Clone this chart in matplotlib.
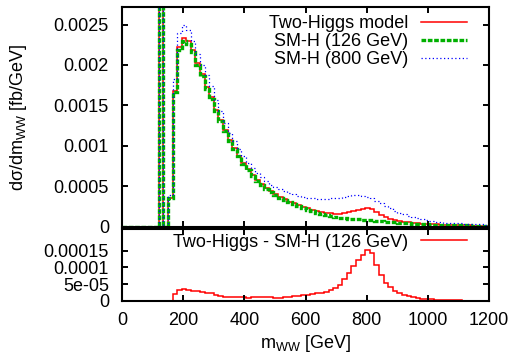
import numpy as np
import matplotlib
matplotlib.use('Agg')
import matplotlib.pyplot as plt

plt.rcParams['font.family'] = ['Liberation Sans', 'DejaVu Sans']
plt.rcParams['mathtext.fontset'] = 'custom'
plt.rcParams['mathtext.rm'] = 'Liberation Sans'
plt.rcParams['mathtext.it'] = 'Liberation Sans:italic'
plt.rcParams['font.size'] = 13

# 15 GeV bins from 0 to 1200 GeV
edges = np.arange(0, 1201, 15)

# SM-H (126 GeV), fb/GeV per bin
sm126 = [0, 0, 0, 0, 0, 0, 0, 0, 0.05, 0,
         0.00035, 0.00166, 0.00219, 0.00230, 0.00226, 0.00216, 0.00200, 0.00186, 0.00170, 0.00158,
         0.00143, 0.00131, 0.00118, 0.00106, 0.00096, 0.00087, 0.00078, 0.00070, 0.00063, 0.00057,
         0.00052, 0.00047, 0.00043, 0.00039, 0.00036, 0.00033, 0.00030, 0.00028, 0.00025, 0.00023,
         0.00021, 0.00019, 0.00017, 0.000155, 0.000144, 0.000133, 0.000123, 0.000113, 0.000105, 0.000100,
         0.000095, 0.000090, 0.000086, 0.000082, 0.000078, 0.000073, 0.000068, 0.000063, 0.000058, 0.000054,
         0.000050, 0.000046, 0.000042, 0.000039, 0.000036, 0.000033, 0.000030, 0.000027, 0.000025, 0.000023,
         0.000021, 0.000020, 0.000018, 0.000017, 0.000016, 0.000015, 0.000014, 0.000013, 0.000012, 0.000011]

# Two-Higgs - SM-H (126 GeV)
diff = [0, 0, 0, 0, 0, 0, 0, 0, 0, 0,
        0, 2.0e-5, 3.2e-5, 3.4e-5, 3.2e-5, 3.0e-5, 2.8e-5, 2.6e-5, 2.4e-5, 2.2e-5,
        1.6e-5, 1.3e-5, 1.2e-5, 1.2e-5, 1.1e-5, 1.0e-5, 1.0e-5, 0.9e-5, 1.0e-5, 1.0e-5,
        1.1e-5, 1.2e-5, 1.1e-5, 0.9e-5, 0.9e-5, 1.0e-5, 1.1e-5, 1.3e-5, 1.5e-5, 1.7e-5,
        1.8e-5, 2.0e-5, 2.2e-5, 2.4e-5, 2.7e-5, 3.2e-5, 3.8e-5, 4.7e-5, 6.4e-5, 8.2e-5,
        1.04e-4, 1.22e-4, 1.37e-4, 1.52e-4, 1.42e-4, 1.07e-4, 7.7e-5, 5.4e-5, 4.2e-5, 3.0e-5,
        2.2e-5, 1.7e-5, 1.3e-5, 1.0e-5, 0.8e-5, 0.6e-5, 0.5e-5, 0.4e-5, 0.3e-5, 0.2e-5,
        0.2e-5, 0.1e-5, 0.1e-5, 0.1e-5, 0, 0, 0, 0, 0, 0]

# SM-H (800 GeV)
sm800 = [0, 0, 0, 0, 0, 0, 0, 0, 0.05, 0,
         0.00039, 0.00183, 0.00240, 0.00249, 0.00243, 0.00229, 0.00214, 0.00200, 0.00187, 0.00174,
         0.00157, 0.00143, 0.00128, 0.00116, 0.00106, 0.00096, 0.00087, 0.00079, 0.00073, 0.00067,
         0.00061, 0.00056, 0.00052, 0.00049, 0.00046, 0.00044, 0.00042, 0.00040, 0.00038, 0.00037,
         0.00036, 0.00035, 0.00034, 0.00034, 0.00034, 0.00035, 0.00035, 0.00036, 0.00037, 0.00038,
         0.00039, 0.00039, 0.00038, 0.00037, 0.00035, 0.00032, 0.00029, 0.00026, 0.00023, 0.00020,
         0.000175, 0.000155, 0.000135, 0.000118, 0.000102, 0.000090, 0.000080, 0.000070, 0.000062, 0.000055,
         0.000050, 0.000046, 0.000042, 0.000040, 0.000037, 0.000035, 0.000032, 0.000030, 0.000028, 0.000026]

two_higgs = np.array(sm126) + np.array(diff)

red = '#ff0000'
green = '#00b000'
blue = '#0000ff'

fig = plt.figure(figsize=(5.11, 3.55), dpi=100)
ax1 = fig.add_axes([0.2389, 0.3614, 0.7182, 0.6197])
ax2 = fig.add_axes([0.2389, 0.1530, 0.7182, 0.2011])

ax1.stairs(two_higgs, edges, baseline=None, color=red, lw=1.1, label='Two-Higgs model')
ax1.stairs(sm126, edges, baseline=None, color=green, lw=2.4, ls=(0, (1.4, 0.5)),
           label='SM-H (126 GeV)')
ax1.stairs(sm800, edges, baseline=None, color=blue, lw=0.9, ls=(0, (1, 2)),
           label='SM-H (800 GeV)')
ax1.set_xlim(0, 1200)
ax1.set_ylim(0, 0.00272)
ax1.set_yticks([0, 0.0005, 0.001, 0.0015, 0.002, 0.0025])
ax1.set_yticklabels(['0', '0.0005', '0.001', '0.0015', '0.002', '0.0025'])
ax1.set_xticks(range(0, 1201, 200))
ax1.set_xticklabels([])

ax2.stairs(diff, edges, baseline=None, color=red, lw=1.1, label='Two-Higgs - SM-H (126 GeV)')
ax2.set_xlim(0, 1200)
ax2.set_ylim(0, 0.000214)
ax2.set_yticks([0, 5e-5, 1e-4, 1.5e-4])
ax2.set_yticklabels(['0', '5e-05', '0.0001', '0.00015'])
ax2.set_xticks(range(0, 1201, 200))

for ax in (ax1, ax2):
    for sp in ax.spines.values():
        sp.set_linewidth(1.5)
    ax.tick_params(direction='in', length=4, width=1.4, top=True, right=True,
                   labelsize=13, pad=9.5)
    ax.tick_params(axis='x', pad=8.5)

def right_align(leg):
    for col in leg._legend_handle_box.get_children():
        col.align = 'right'

leg1 = ax1.legend(loc='upper right', bbox_to_anchor=(0.94, 0.962), frameon=False,
                  markerfirst=False, borderpad=0, borderaxespad=0, handlelength=2.55,
                  handletextpad=0.72, labelspacing=0.06, fontsize=13)
right_align(leg1)
leg2 = ax2.legend(loc='upper right', bbox_to_anchor=(0.94, 0.94), frameon=False,
                  markerfirst=False, borderpad=0, borderaxespad=0, handlelength=2.55,
                  handletextpad=0.72, fontsize=13)
right_align(leg2)

fig.text(18.5 / 511, 1 - 117 / 355, 'd\u03c3/dm$_{\\rm WW}$ [fb/GeV]', rotation=90,
         ha='center', va='center', fontsize=13)
ax2.set_xlabel('m$_{\\rm WW}$ [GeV]', fontsize=13, labelpad=2.5)

fig.savefig('out.png', dpi=100)
